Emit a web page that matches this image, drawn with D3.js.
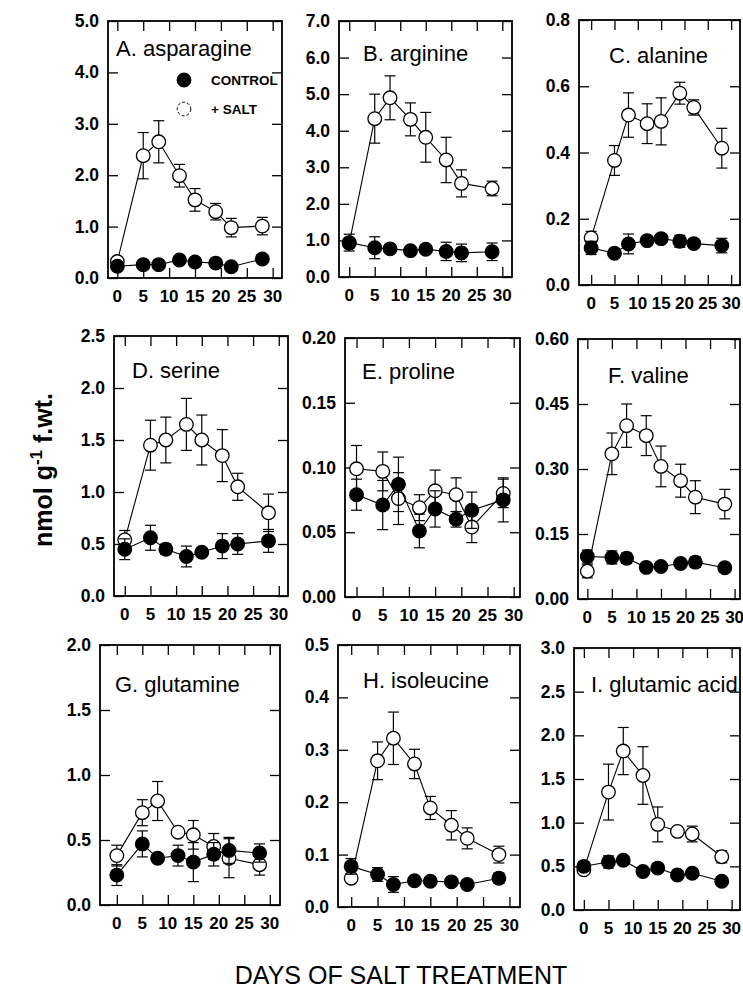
<!DOCTYPE html>
<html><head><meta charset="utf-8">
<script src="https://cdn.jsdelivr.net/npm/d3@7/dist/d3.min.js"></script>
<style>
html,body{margin:0;padding:0;background:#fff;}
svg{display:block;}
</style></head>
<body>
<svg id="chart" width="743" height="992"></svg>
<script>
// ---------------- DATA ----------------
const days = [0, 5, 8, 12, 15, 19, 22, 28];
const xTicks = [0, 5, 10, 15, 20, 25, 30];
const panelTitles = ["A. asparagine","B. arginine","C. alanine","D. serine","E. proline","F. valine","G. glutamine","H. isoleucine","I. glutamic acid"];
const yMax = [5, 7, 0.8, 2.5, 0.2, 0.6, 2.0, 0.5, 3.0];
const yStep = [1, 1, 0.2, 0.5, 0.05, 0.15, 0.5, 0.1, 0.5];
const yDecimals = [1, 1, 1, 1, 2, 2, 1, 1, 1];
const legendLabels = ["CONTROL", "+ SALT"];

const asparagineSalt = [0.32, 2.38, 2.65, 1.99, 1.52, 1.29, 0.98, 1.01];
const asparagineSaltErr = [0.04, 0.45, 0.41, 0.22, 0.22, 0.16, 0.18, 0.17];
const asparagineCtrl = [0.23, 0.26, 0.26, 0.35, 0.31, 0.29, 0.22, 0.37];
const asparagineCtrlErr = [0.03, 0.03, 0.03, 0.03, 0.03, 0.03, 0.03, 0.03];

const arginineSalt = [0.92, 4.33, 4.90, 4.31, 3.82, 3.20, 2.56, 2.42];
const arginineSaltErr = [0.10, 0.67, 0.60, 0.45, 0.68, 0.62, 0.37, 0.20];
const arginineCtrl = [0.94, 0.80, 0.77, 0.72, 0.76, 0.70, 0.66, 0.69];
const arginineCtrlErr = [0.23, 0.30, 0.05, 0.05, 0.05, 0.25, 0.24, 0.24];

const alanineSalt = [0.142, 0.376, 0.513, 0.487, 0.494, 0.579, 0.536, 0.413];
const alanineSaltErr = [0.02, 0.045, 0.067, 0.06, 0.071, 0.033, 0.023, 0.06];
const alanineCtrl = [0.112, 0.096, 0.124, 0.134, 0.14, 0.132, 0.125, 0.119];
const alanineCtrlErr = [0.02, 0.012, 0.03, 0.01, 0.012, 0.018, 0.01, 0.022];

const serineSalt = [0.54, 1.45, 1.50, 1.65, 1.50, 1.35, 1.05, 0.80];
const serineSaltErr = [0.09, 0.24, 0.22, 0.25, 0.24, 0.25, 0.13, 0.18];
const serineCtrl = [0.45, 0.56, 0.45, 0.38, 0.42, 0.48, 0.50, 0.53];
const serineCtrlErr = [0.10, 0.12, 0.05, 0.10, 0.04, 0.12, 0.10, 0.11];

const prolineSalt = [0.099, 0.097, 0.076, 0.069, 0.082, 0.079, 0.054, 0.080];
const prolineSaltErr = [0.018, 0.015, 0.020, 0.010, 0.016, 0.013, 0.012, 0.011];
const prolineCtrl = [0.079, 0.071, 0.087, 0.051, 0.068, 0.060, 0.067, 0.075];
const prolineCtrlErr = [0.012, 0.019, 0.021, 0.013, 0.014, 0.006, 0.014, 0.017];

const valineSalt = [0.064, 0.335, 0.400, 0.377, 0.306, 0.273, 0.235, 0.219];
const valineSaltErr = [0.015, 0.048, 0.050, 0.046, 0.047, 0.038, 0.038, 0.034];
const valineCtrl = [0.098, 0.096, 0.094, 0.073, 0.075, 0.082, 0.085, 0.072];
const valineCtrlErr = [0.015, 0.015, 0.012, 0.008, 0.006, 0.010, 0.012, 0.010];

const glutamineSalt = [0.38, 0.71, 0.80, 0.56, 0.54, 0.45, 0.36, 0.31];
const glutamineSaltErr = [0.08, 0.10, 0.15, 0.02, 0.11, 0.10, 0.15, 0.08];
const glutamineCtrl = [0.23, 0.47, 0.36, 0.38, 0.33, 0.39, 0.42, 0.40];
const glutamineCtrlErr = [0.08, 0.10, 0.03, 0.08, 0.15, 0.09, 0.10, 0.07];

const isoleucineSalt = [0.055, 0.279, 0.322, 0.273, 0.189, 0.156, 0.131, 0.100];
const isoleucineSaltErr = [0.008, 0.036, 0.050, 0.028, 0.022, 0.028, 0.020, 0.016];
const isoleucineCtrl = [0.0775, 0.062, 0.043, 0.050, 0.049, 0.048, 0.043, 0.055];
const isoleucineCtrlErr = [0.015, 0.013, 0.015, 0.008, 0.005, 0.005, 0.008, 0.010];

const glutamicSalt = [0.46, 1.35, 1.82, 1.54, 0.98, 0.90, 0.87, 0.61];
const glutamicSaltErr = [0.04, 0.32, 0.27, 0.33, 0.20, 0.03, 0.09, 0.07];
const glutamicCtrl = [0.50, 0.55, 0.57, 0.44, 0.48, 0.40, 0.42, 0.33];
const glutamicCtrlErr = [0.05, 0.07, 0.03, 0.03, 0.03, 0.03, 0.02, 0.03];

const saltSeries = [asparagineSalt, arginineSalt, alanineSalt, serineSalt, prolineSalt, valineSalt, glutamineSalt, isoleucineSalt, glutamicSalt];
const saltErrSeries = [asparagineSaltErr, arginineSaltErr, alanineSaltErr, serineSaltErr, prolineSaltErr, valineSaltErr, glutamineSaltErr, isoleucineSaltErr, glutamicSaltErr];
const ctrlSeries = [asparagineCtrl, arginineCtrl, alanineCtrl, serineCtrl, prolineCtrl, valineCtrl, glutamineCtrl, isoleucineCtrl, glutamicCtrl];
const ctrlErrSeries = [asparagineCtrlErr, arginineCtrlErr, alanineCtrlErr, serineCtrlErr, prolineCtrlErr, valineCtrlErr, glutamineCtrlErr, isoleucineCtrlErr, glutamicCtrlErr];

// ---------------- LAYOUT (positions / styles) ----------------
// frame: [left, top, right, bottom], x domain [min,max], title offset [dx, dy]
const layout = [
  {f:[108, 21, 282, 278], xd:[-1.8, 31.8], t:[8, 35]},
  {f:[339, 21, 512, 277], xd:[-2.0, 31.9], t:[24, 40]},
  {f:[579, 20, 740, 285], xd:[-2.6, 31.9], t:[30, 43]},
  {f:[114, 336, 288, 596], xd:[-2.1, 31.8], t:[18, 42]},
  {f:[345, 338, 520, 597], xd:[-2.2, 31.2], t:[17, 41]},
  {f:[578, 339, 740, 599], xd:[-1.9, 31.1], t:[30, 44]},
  {f:[100, 645, 280, 905], xd:[-3.3, 32.0], t:[15, 47]},
  {f:[338, 645, 520, 907], xd:[-2.5, 32.0], t:[25, 43]},
  {f:[574, 648, 740, 910], xd:[-2.0, 31.7], t:[17, 44]}
];
const R = 6.8, CAP = 5.5, TICK = 10;
const tickFont = "'Liberation Sans', Arial, sans-serif";

const svg = d3.select("#chart");

layout.forEach((L, i) => {
  const [l, t, r, b] = L.f;
  const x = d3.scaleLinear().domain(L.xd).range([l, r]);
  const y = d3.scaleLinear().domain([0, yMax[i]]).range([b, t]);
  const g = svg.append("g");
  const yt = d3.range(0, yMax[i] + yStep[i] / 2, yStep[i]);
  const fmt = d3.format("." + yDecimals[i] + "f");

  // axes via d3 axis generators (inward ticks)
  const left = d3.axisRight(y).tickValues(yt).tickSize(TICK).tickFormat("");
  const right = d3.axisLeft(y).tickValues(yt).tickSize(TICK).tickFormat("");
  const bottom = d3.axisTop(x).tickValues(xTicks).tickSize(TICK).tickFormat("");
  const top = d3.axisBottom(x).tickValues(xTicks).tickSize(TICK).tickFormat("");
  [[left, `translate(${l},0)`], [right, `translate(${r},0)`], [bottom, `translate(0,${b})`], [top, `translate(0,${t})`]].forEach(([ax, tr]) => {
    const a = g.append("g").attr("transform", tr).call(ax);
    a.select(".domain").remove();
    a.selectAll("line").attr("stroke", "#000").attr("stroke-width", 1.3);
  });

  // tick labels
  g.selectAll(".yl").data(yt).enter().append("text")
    .attr("x", l - 9).attr("y", d => y(d) + 6)
    .attr("text-anchor", "end")
    .style("font-family", tickFont).style("font-weight", "bold").style("font-size", "17.5px")
    .text(d => fmt(d));
  g.selectAll(".xl").data(xTicks).enter().append("text")
    .attr("x", d => x(d)).attr("y", b + 24)
    .attr("text-anchor", "middle")
    .style("font-family", tickFont).style("font-weight", "bold").style("font-size", "17px")
    .text(d => d);

  // frame
  g.append("rect").attr("x", l).attr("y", t).attr("width", r - l).attr("height", b - t)
    .attr("fill", "none").attr("stroke", "#000").attr("stroke-width", 1.8);

  // title
  g.append("text").attr("x", l + L.t[0]).attr("y", t + L.t[1])
    .style("font-family", tickFont).style("font-size", "22px")
    .text(panelTitles[i]);

  const line = d3.line().x((d, j) => x(days[j])).y(d => y(d));
  const drawSeries = (vals, errs, fill) => {
    g.append("path").attr("d", line(vals)).attr("fill", "none").attr("stroke", "#000").attr("stroke-width", 1.1);
    vals.forEach((v, j) => {
      const cx = x(days[j]);
      const e = errs[j];
      g.append("line").attr("x1", cx).attr("x2", cx).attr("y1", y(v - e)).attr("y2", y(v + e)).attr("stroke", "#000").attr("stroke-width", 1.2);
      [v - e, v + e].forEach(ev => g.append("line").attr("x1", cx - CAP).attr("x2", cx + CAP).attr("y1", y(ev)).attr("y2", y(ev)).attr("stroke", "#000").attr("stroke-width", 1.2));
    });
    g.selectAll(null).data(vals).enter().append("circle")
      .attr("cx", (d, j) => x(days[j])).attr("cy", d => y(d)).attr("r", R)
      .attr("fill", fill).attr("stroke", "#000").attr("stroke-width", 1.3);
  };
  drawSeries(saltSeries[i], saltErrSeries[i], "#fff");
  drawSeries(ctrlSeries[i], ctrlErrSeries[i], "#000");

  // legend in panel A
  if (i === 0) {
    const lg = g.append("g");
    [["#000", 80], ["#fff", 109]].forEach(([fill, cy], k) => {
      lg.append("circle").attr("cx", 184).attr("cy", cy).attr("r", R).attr("fill", fill).attr("stroke", "#000").attr("stroke-width", k ? 1 : 1.3)
        .attr("stroke-dasharray", k ? "3,2" : null);
      lg.append("text").attr("x", 211).attr("y", cy + 5)
        .style("font-family", tickFont).style("font-weight", "bold").style("font-size", "13.5px")
        .text(legendLabels[k]);
    });
  }
});

// axis titles
const yTitle = svg.append("text").attr("transform", "translate(52,470) rotate(-90)")
  .attr("text-anchor", "middle")
  .style("font-family", tickFont).style("font-weight", "bold").style("font-size", "25px");
yTitle.append("tspan").text("nmol g");
yTitle.append("tspan").attr("dy", -10).style("font-size", "17px").text("-1");
yTitle.append("tspan").attr("dy", 10).text(" f.wt.");

svg.append("text").attr("x", 401).attr("y", 984).attr("text-anchor", "middle")
  .style("font-family", tickFont).style("font-size", "25px")
  .text("DAYS OF SALT TREATMENT");
</script>
</body></html>
